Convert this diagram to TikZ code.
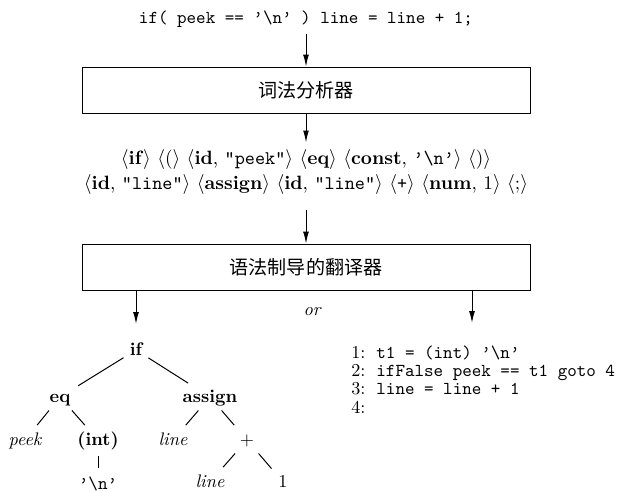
\documentclass[tikz,border=0pt]{standalone}
\usepackage{fontspec}
\newfontfamily\cjk{Noto Sans CJK SC}
\usetikzlibrary{arrows.meta}
\newcommand\tokn[1]{$\langle$#1$\rangle$}
\newcommand\bsl{\textbackslash}
\newcommand\qq{\textquoteright}
\begin{document}
\begin{tikzpicture}[x=0.55pt,y=-0.55pt,
  arr/.style={-{Latex[length=6.5pt,width=3.2pt]},line width=0.55pt},
  box/.style={draw,line width=0.5pt,minimum width=246.4pt,minimum height=25.3pt,inner sep=0pt},
  tn/.style={inner sep=2pt,text height=1.6ex,text depth=0.3ex},
  edge/.style={line width=0.55pt,shorten <=1.5pt,shorten >=2.5pt},
  tokline/.style={inner sep=1pt,font=\fontsize{10.6pt}{12pt}\selectfont},
  code/.style={anchor=base west,inner sep=0pt}]
\useasboundingbox (0,0) rectangle (625,493);
% top source line
\node (top) at (306,19) {\ttfamily if( peek == \qq\bsl n\qq{} ) line = line + 1;};
\node[box] (lex) at (306,90) {\fontsize{10.5pt}{12pt}\cjk 词法分析器};
\node[tokline] (tok1) at (306,160) {\tokn{\textbf{if}} \tokn{(} \tokn{\textbf{id}, \texttt{"peek"}} \tokn{\textbf{eq}} \tokn{\textbf{const}, \texttt{\qq\bsl n\qq}} \tokn{)}};
\node[tokline] (tok2) at (306,185) {\tokn{\textbf{id}, \texttt{"line"}} \tokn{\textbf{assign}} \tokn{\textbf{id}, \texttt{"line"}} \tokn{\texttt{+}} \tokn{\textbf{num}, 1} \tokn{;}};
\node[box] (syn) at (306,267) {\fontsize{10.5pt}{12pt}\cjk 语法制导的翻译器};
\draw[arr] (top) -- (lex);
\draw[arr,shorten >=3pt] (lex) -- (tok1);
\draw[arr,shorten <=7pt] (tok2) -- (syn);
% or
\node[font=\itshape] (or) at (312,312) {or};
% tree
\node[tn,font=\bfseries] (if) at (136,350) {if};
\node[tn,font=\bfseries] (eq) at (60,397) {eq};
\node[tn,font=\bfseries] (as) at (210,397) {assign};
\node[tn,font=\itshape] (peek) at (25,440) {peek};
\node[tn,font=\bfseries] (int) at (98,440) {(int)};
\node[tn,font=\ttfamily] (nl) at (98,484) {\qq\bsl n\qq};
\node[tn,font=\itshape] (l1) at (173,440) {line};
\node[tn] (plus) at (247,440) {+};
\node[tn,font=\itshape] (l2) at (210,482) {line};
\node[tn] (one) at (283,482) {1};
\draw[arr,shorten >=8pt] (syn.south -| if) -- (if);
\draw[edge] (if) -- (eq);
\draw[edge] (if) -- (as);
\draw[edge] (eq) -- (peek);
\draw[edge] (eq) -- (int);
\draw[edge,shorten <=2.5pt] (int) -- (nl);
\draw[edge] (as) -- (l1);
\draw[edge] (as) -- (plus);
\draw[edge] (plus) -- (l2);
\draw[edge] (plus) -- (one);
% code
\coordinate (ce) at (472,323);
\draw[arr] (syn.south -| ce) -- (ce);
\node[code] (c1) at (351,358) {1:\hspace{0.6em}\texttt{t1 = (int) \qq\bsl n\qq}};
\node[code] (c2) at (351,376) {2:\hspace{0.6em}\texttt{ifFalse peek == t1 goto 4}};
\node[code] (c3) at (351,394) {3:\hspace{0.6em}\texttt{line = line + 1}};
\node[code] (c4) at (351,413) {4:};
\end{tikzpicture}
\end{document}
